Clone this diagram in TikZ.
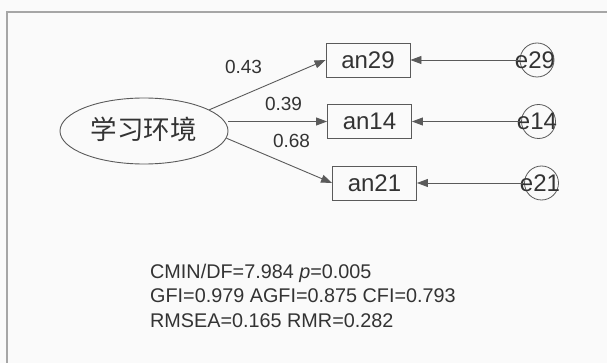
\documentclass[tikz,border=0pt]{standalone}
\usepackage{fontspec}
\setmainfont{Liberation Sans}
\newfontfamily\cjk{Noto Sans CJK SC}
\usetikzlibrary{shapes.geometric,arrows.meta}
\definecolor{linegray}{HTML}{5A5A5A}
\definecolor{txtgray}{HTML}{333333}
\tikzset{
  obsbox/.style={draw=linegray,line width=0.9pt,minimum width=84pt,minimum height=34pt,inner sep=0pt,text=txtgray,font=\fontsize{24}{27}\selectfont},
  errcirc/.style={draw=linegray,line width=0.8pt,circle,minimum size=34pt,inner sep=0pt},
  errtxt/.style={text=txtgray,inner sep=0pt,font=\fontsize{24}{27}\selectfont},
  latent/.style={draw=linegray,line width=0.9pt,ellipse,minimum width=168pt,minimum height=66pt,inner sep=0pt},
  coef/.style={text=txtgray,inner sep=0pt,font=\fontsize{19}{22}\selectfont},
  fitline/.style={text=txtgray,inner sep=0pt,anchor=base west,font=\fontsize{19.8}{24}\selectfont},
  path/.style={draw=linegray,line width=0.9pt,-{Triangle[length=11pt,width=8pt]}},
}
\begin{document}
\begin{tikzpicture}[x=1pt,y=-1pt]
\useasboundingbox (0,0) rectangle (607,363);
\fill[black!2] (0,0) rectangle (607,363);
\coordinate (ftl) at (7,12);
\coordinate (ftr) at (607,12);
\coordinate (fbl) at (7,363);
\draw[black!35,line width=1.2pt] (ftr) -- (ftl) -- (fbl);

\node[latent] (lat) at (144,131) {};
\node[text=txtgray,inner sep=0pt,font=\cjk\fontsize{26.5}{30}\selectfont] (latt) at (143.5,129) {学习环境};

\node[obsbox] (an29) at (368,60) {an29};
\node[obsbox] (an14) at (369.5,121.5) {an14};
\node[obsbox] (an21) at (374.5,183) {an21};

\node[errcirc] (c29) at (537,60) {};
\node[errcirc] (c14) at (538.5,121.5) {};
\node[errcirc] (c21) at (541.5,183) {};
\node[errtxt] (t29) at (535,60) {e29};
\node[errtxt] (t14) at (537,121.5) {e14};
\node[errtxt] (t21) at (540,183) {e21};

\draw[path] (lat.18) -- (an29.west);
\draw[path] (lat.east |- an14.west) -- (an14.west);
\draw[path] (lat.-5) -- (an21.west);

\draw[path] (c29.west) -- (an29.east);
\draw[path] (c14.west) -- (an14.east);
\draw[path] (c21.west) -- (an21.east);

\node[coef] (k1) at (243.5,66.5) {0.43};
\node[coef] (k2) at (283.5,104) {0.39};
\node[coef] (k3) at (291.5,140.5) {0.68};

\node[fitline] (f1) at (150,278) {CMIN/DF=7.984 {\itshape p}=0.005};
\node[fitline] (f2) at (150,302.5) {GFI=0.979 AGFI=0.875 CFI=0.793};
\node[fitline] (f3) at (150,327.5) {RMSEA=0.165 RMR=0.282};
\end{tikzpicture}
\end{document}
